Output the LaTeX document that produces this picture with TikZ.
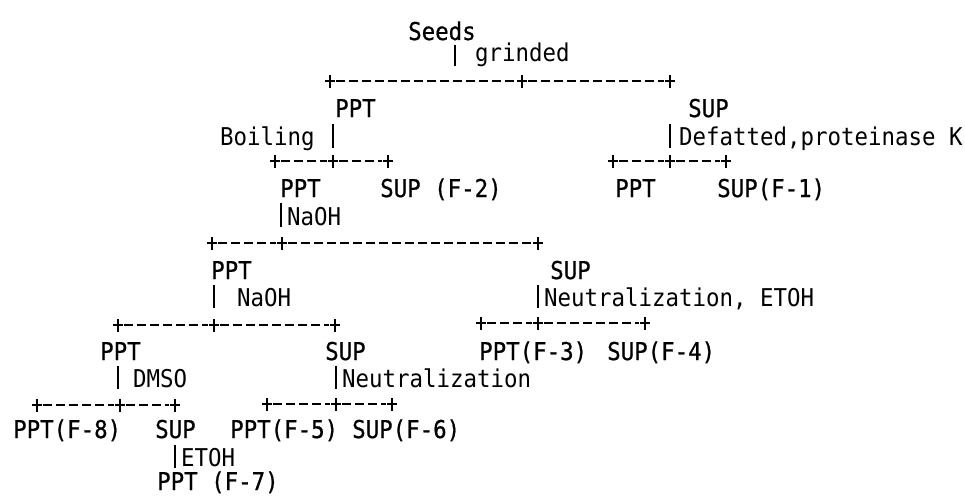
\documentclass[tikz,border=0pt]{standalone}
\usepackage{fontspec}
% narrow, tall monospaced face for the whole tree
\newfontfamily\notefont[FakeStretch=0.915]{DejaVu Sans Mono}
\newfontfamily\labelfont[FakeStretch=0.915,FakeBold=0.7]{DejaVu Sans Mono}
\tikzset{
  lbl/.style={anchor=base west, inner sep=0pt, font=\labelfont\fontsize{24.5}{28}\selectfont},
  note/.style={anchor=base west, inner sep=0pt, font=\notefont\fontsize{24.5}{28}\selectfont},
  rule/.style={line width=1.5pt, dash pattern=on 9pt off 4pt},
  tick/.style={line width=1.5pt},
  bar/.style={line width=1.5pt}
}
% fork: #1 name, #2 y, #3 left end, #4 junction, #5 right end
\newcommand\forkline[5]{%
  \coordinate (#1-l) at (#3,#2);
  \coordinate (#1-m) at (#4,#2);
  \coordinate (#1-r) at (#5,#2);
  \draw[rule] ([xshift=6pt]#1-l) -- ([xshift=-6pt]#1-m);
  \draw[rule] ([xshift=6pt]#1-m) -- ([xshift=-6pt]#1-r);
  \foreach \p in {l,m,r}{
    \draw[tick] ([xshift=-5pt]#1-\p) -- ([xshift=5pt]#1-\p);
    \draw[tick] ([yshift=-6.5pt]#1-\p) -- ([yshift=6.5pt]#1-\p);
  }%
}
% vertical step bar: #1 name, #2 x, #3 top y, #4 bottom y
\newcommand\stepbar[4]{%
  \coordinate (#1-t) at (#2,#3);
  \coordinate (#1-b) at (#2,#4);
  \draw[bar] (#1-t) -- (#1-b);%
}
\begin{document}
\begin{tikzpicture}[x=1pt,y=-1pt]
\useasboundingbox (0,0) rectangle (965,495);

% root
\node[lbl] (seeds) at (408,40) {Seeds};
\stepbar{b0}{455}{45}{66}
\node[note] (grind) at (475,62) {grinded};
\forkline{f1}{81}{330}{522}{670}

% first split
\node[lbl] (ppt1) at (335,117) {PPT};
\node[lbl] (sup1) at (688,117) {SUP};
\node[note] (boil) at (220,145) {Boiling};
\stepbar{b1}{333}{124}{148}
\stepbar{b2}{670}{124}{148}
\node[note] (defat) at (679,145) {Defatted,proteinase K};
\forkline{f2}{161}{275}{333}{388}
\forkline{f3}{161}{613}{670}{726}

\node[lbl] (ppt2) at (280,197) {PPT};
\node[lbl] (f2) at (380,197) {SUP (F-2)};
\node[lbl] (ppt3) at (615,197) {PPT};
\node[lbl] (f1) at (717,197) {SUP(F-1)};

% NaOH extraction
\stepbar{b3}{281}{203}{227}
\node[note] (naoh1) at (287,225) {NaOH};
\forkline{f4}{243}{212}{282}{538}

\node[lbl] (ppt4) at (211,279) {PPT};
\node[lbl] (sup4) at (550,279) {SUP};
\stepbar{b4}{214}{285}{308}
\node[note] (naoh2) at (237,306) {NaOH};
\stepbar{b5}{538}{285}{308}
\node[note] (neut1) at (544,306) {Neutralization, ETOH};
\forkline{f5}{325}{118}{214}{335}
\forkline{f6}{323}{481}{538}{645}

\node[lbl] (ppt5) at (100,360) {PPT};
\node[lbl] (sup5) at (325,360) {SUP};
\node[lbl] (f3) at (479,360) {PPT(F-3)};
\node[lbl] (f4) at (607,360) {SUP(F-4)};

% DMSO and neutralization
\stepbar{b6}{118}{366}{389}
\node[note] (dmso) at (133,387) {DMSO};
\stepbar{b7}{336}{366}{389}
\node[note] (neut2) at (342,387) {Neutralization};
\forkline{f7}{405}{37}{120}{175}
\forkline{f8}{404}{267}{336}{392}

\node[lbl] (f8) at (13,438) {PPT(F-8)};
\node[lbl] (sup7) at (155,438) {SUP};
\node[lbl] (f5) at (230,438) {PPT(F-5)};
\node[lbl] (f6) at (352,438) {SUP(F-6)};

% ethanol precipitation
\stepbar{b8}{175}{445}{468}
\node[note] (etoh) at (181,466) {ETOH};
\node[lbl] (f7) at (157,490) {PPT (F-7)};
\end{tikzpicture}
\end{document}
